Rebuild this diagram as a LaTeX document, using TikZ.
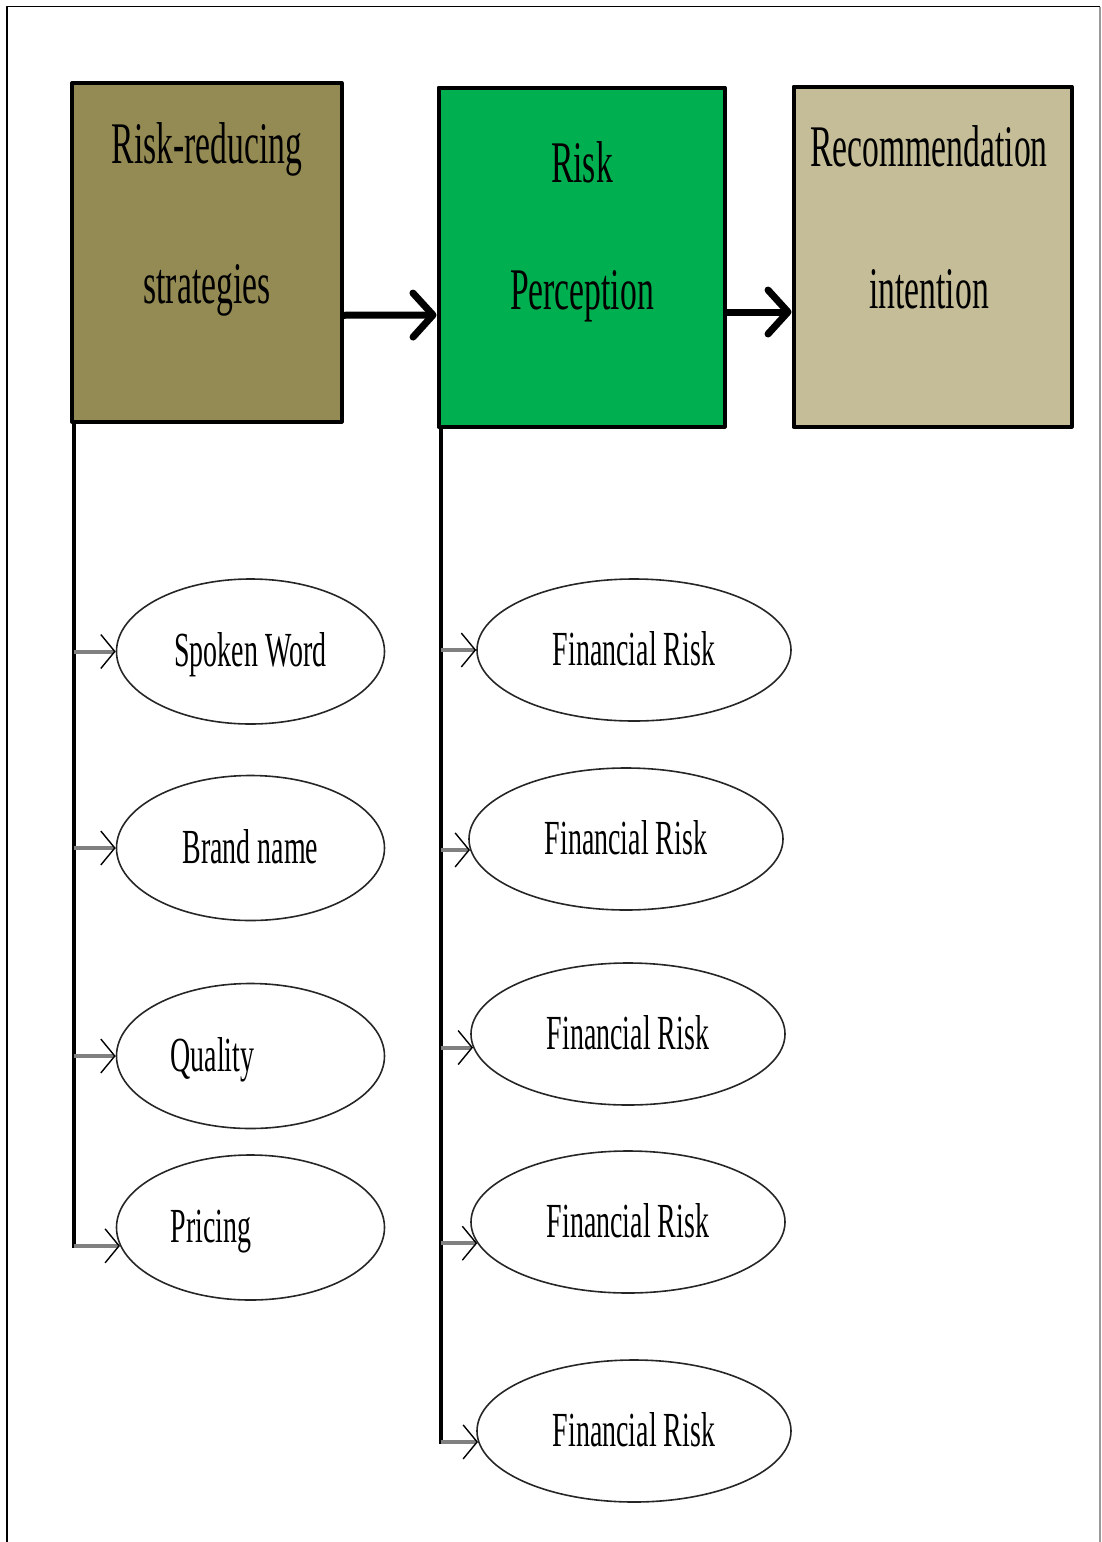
\documentclass[tikz,border=0pt]{standalone}
\usepackage{fontspec}
\setmainfont{Liberation Serif}[FakeStretch=0.57]
\usetikzlibrary{shapes.geometric,arrows.meta,calc,positioning}
\definecolor{olivebox}{HTML}{948A54}
\definecolor{greenbox}{HTML}{00B050}
\definecolor{tanbox}{HTML}{C4BD97}
\tikzset{
  bigbox/.style={draw,line width=4pt,inner sep=0pt},
  boxtext/.style={align=center,inner sep=0pt,anchor=north,font=\fontsize{59}{#1}\selectfont},
  bigarrow/.style={line width=7pt,-{Straight Barb[length=20pt,width=44pt,round]}},
  trunk/.style={line width=4pt,line cap=rect},
  twig/.style={line width=4pt,black!50,-{Straight Barb[length=14pt,width=34pt,line width=1.4pt,color=black]}},
  ell/.style={ellipse,draw=black!85,line width=1.6pt,inner sep=0pt,font=\fontsize{49}{55}\selectfont,text height=36pt,text depth=6pt},
  leftell/.style={ell,minimum width=268pt,minimum height=145pt},
  rightell/.style={ell,minimum width=314pt,minimum height=142pt},
  flushtext/.style={text width=160pt,align=left}
}
\begin{document}
\begin{tikzpicture}[x=1pt,y=-1pt,line join=round]
\useasboundingbox (0,0) rectangle (1101,1542);
% frame
\draw[line width=1.3pt] (7,1542) -- (7,6.5) -- (1100,6.5);
\draw[line width=1.3pt,black!40] (1100,6.5) -- (1100,1542);
% top row
\node[bigbox,fill=olivebox,minimum width=269.5pt,minimum height=338.5pt] (rrs) at (206.75,252.25) {};
\node[bigbox,fill=greenbox,minimum width=286pt,minimum height=339pt] (rp) at (581.5,257) {};
\node[bigbox,fill=tanbox,minimum width=278pt,minimum height=340pt] (ri) at (932.5,256.5) {};
\node[boxtext=140] (rrsT) at (207,122) {Risk-reducing\\strategies};
\node[boxtext=127] (rpT) at (582,141) {Risk\\Perception};
\node[boxtext=142] (riT) at (929,125) {Recommendation\\intention};
\draw[bigarrow] ([yshift=-63pt]rrs.east) -- ([yshift=-58pt]rp.west);
\draw[bigarrow] ([yshift=-55pt]rp.east) -- ([yshift=-55.5pt]ri.west);
% ellipses
\node[leftell] (sw) at (250.5,651.5) {Spoken Word};
\node[leftell] (bn) at (250.5,848) {Brand name};
\node[leftell,flushtext] (ql) at (250.5,1056) {Quality};
\node[leftell,flushtext] (pr) at (250.5,1227.5) {Pricing};
\foreach \n/\x/\y in {fr1/634/650,fr2/626/839,fr3/628/1034,fr4/628/1222,fr5/634/1431}
  {\node[rightell] (\n) at (\x,\y) {Financial Risk};}
% trunks and branches
\coordinate (lt) at ([xshift=4pt]rrs.south west);
\coordinate (rt) at ([xshift=4pt]rp.south west);
\draw[trunk] (lt) -- (lt |- pr.188);
\draw[trunk] (rt) -- (rt |- fr5.184);
\foreach \e in {sw.west,bn.west,ql.west,pr.188}{\draw[twig] (lt |- \e) -- (\e);}
\foreach \e in {fr1.west,fr2.184,fr3.185,fr4.188,fr5.184}{\draw[twig] (rt |- \e) -- (\e);}
\end{tikzpicture}
\end{document}
